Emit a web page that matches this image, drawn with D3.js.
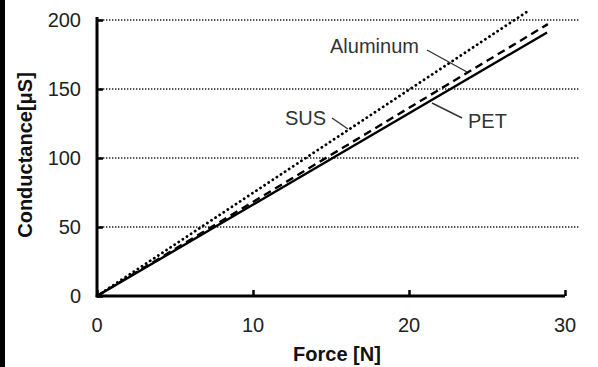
<!DOCTYPE html>
<html><head><meta charset="utf-8">
<script src="https://cdn.jsdelivr.net/npm/d3@7"></script>
<style>
html,body{margin:0;padding:0;background:#fff;}
svg{display:block;}
text{font-family:"Liberation Sans",Arial,sans-serif;}
</style></head>
<body>
<svg id="chart" width="598" height="367"></svg>
<script>
// Data
const xTicks = [0, 10, 20, 30];
const yTicks = [0, 50, 100, 150, 200];
const seriesNames = ["PET", "Aluminum", "SUS"];
const petForce = [0, 28.85];
const petConductance = [0, 191];
const aluminumForce = [0, 28.9];
const aluminumConductance = [0, 197];
const susForce = [0, 27.7];
const susConductance = [0, 207];
const labelNames = ["Aluminum", "SUS", "PET"];

const svg = d3.select("#chart");
const x = d3.scaleLinear().domain([0, 30]).range([97, 565]);
const y = d3.scaleLinear().domain([0, 200]).range([296, 20]);

// left frame bar
svg.append("rect").attr("x", 0).attr("y", 0).attr("width", 5).attr("height", 367).attr("fill", "#000");

// gridlines
svg.append("g").selectAll("line").data(yTicks.filter(d => d > 0)).join("line")
  .attr("x1", x(0)).attr("x2", 580)
  .attr("y1", d => y(d)).attr("y2", d => y(d))
  .attr("stroke", "#222").attr("stroke-width", 1.5).attr("stroke-dasharray", "1.4,1.6");

// series
const series = [
  {name: "PET", xs: petForce, ys: petConductance, dash: null, cap: "butt"},
  {name: "Aluminum", xs: aluminumForce, ys: aluminumConductance, dash: "8,5", cap: "butt"},
  {name: "SUS", xs: susForce, ys: susConductance, dash: "0.1,4.8", cap: "round"}
];
const line = d3.line().x(d => x(d[0])).y(d => y(d[1]));
series.forEach(s => {
  const pts = s.xs.map((v, i) => [v, s.ys[i]]);
  svg.append("path").datum(pts).attr("d", line)
    .attr("fill", "none").attr("stroke", "#000").attr("stroke-width", s.name === "SUS" ? 2.8 : 2.4)
    .attr("stroke-linecap", s.cap)
    .attr("stroke-dasharray", s.dash);
});

// axes
const xAxis = d3.axisBottom(x).tickValues(xTicks).tickSize(-6).tickFormat("");
const gx = svg.append("g").attr("transform", `translate(0,${y(0)})`).call(xAxis);
gx.select(".domain").attr("d", `M${x(0)},0H${x(30)}`).attr("stroke", "#000").attr("stroke-width", 3);
gx.selectAll(".tick line").attr("stroke", "#000").attr("stroke-width", 2.5);

const yAxis = d3.axisLeft(y).tickValues(yTicks).tickSize(-6).tickFormat("");
const gy = svg.append("g").attr("transform", `translate(${x(0)},0)`).call(yAxis);
gy.select(".domain").attr("d", `M0,17V${y(0) + 1.5}`).attr("stroke", "#000").attr("stroke-width", 3);
gy.selectAll(".tick line").attr("stroke", "#000").attr("stroke-width", 2.5);

// tick labels
svg.append("g").selectAll("text").data(xTicks).join("text")
  .attr("x", d => x(d)).attr("y", 332).attr("text-anchor", "middle")
  .attr("font-size", 20).attr("fill", "#222").text(d => d);
svg.append("g").selectAll("text").data(yTicks).join("text")
  .attr("x", 81).attr("y", d => y(d) + 7).attr("text-anchor", "end")
  .attr("font-size", 20).attr("fill", "#222").text(d => d);

// axis titles
svg.append("text").attr("x", 337).attr("y", 361).attr("text-anchor", "middle")
  .attr("font-size", 20).attr("font-weight", "bold").attr("fill", "#111").text("Force [N]");
svg.append("text").attr("transform", "translate(32,155) rotate(-90)").attr("text-anchor", "middle")
  .attr("font-size", 20).attr("font-weight", "bold").attr("fill", "#111").text("Conductance[μS]");

// annotations
const ann = [
  {t: labelNames[0], tx: 330, ty: 53, l: [427, 50, 467, 72]},
  {t: labelNames[1], tx: 285, ty: 125, l: [332, 118, 348, 129]},
  {t: labelNames[2], tx: 468, ty: 128, l: [432, 103, 462, 118]}
];
ann.forEach(a => {
  svg.append("text").attr("x", a.tx).attr("y", a.ty)
    .attr("font-size", 20).attr("fill", "#333").text(a.t);
  svg.append("line").attr("x1", a.l[0]).attr("y1", a.l[1]).attr("x2", a.l[2]).attr("y2", a.l[3])
    .attr("stroke", "#333").attr("stroke-width", 1.4);
});
</script>
</body></html>
